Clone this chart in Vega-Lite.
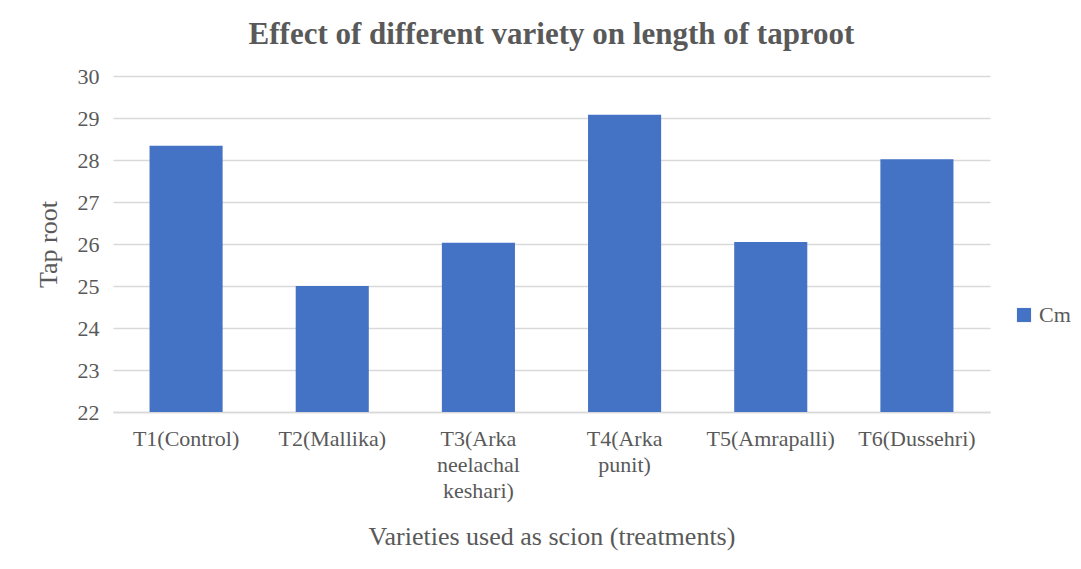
{
  "$schema": "https://vega.github.io/schema/vega-lite/v6.json",
  "width": 877,
  "height": 336,
  "autosize": {"type": "none"},
  "padding": {"left": 113, "top": 76, "right": 91, "bottom": 157},
  "background": "white",
  "title": {
    "text": "Effect of different variety on length of taproot",
    "font": "'Liberation Serif', 'DejaVu Serif', serif",
    "fontSize": 31,
    "fontWeight": "bold",
    "color": "#595959",
    "anchor": "middle",
    "offset": 14
  },
  "data": {
    "values": [
      {"treatment": "T1(Control)", "taproot": 28.34, "series": "Cm"},
      {"treatment": "T2(Mallika)", "taproot": 25.0, "series": "Cm"},
      {"treatment": "T3(Arka neelachal keshari)", "taproot": 26.03, "series": "Cm"},
      {"treatment": "T4(Arka punit)", "taproot": 29.08, "series": "Cm"},
      {"treatment": "T5(Amrapalli)", "taproot": 26.05, "series": "Cm"},
      {"treatment": "T6(Dussehri)", "taproot": 28.02, "series": "Cm"}
    ]
  },
  "mark": {"type": "bar", "clip": true},
  "encoding": {
    "x": {
      "field": "treatment",
      "type": "nominal",
      "sort": null,
      "scale": {"paddingInner": 0.5, "paddingOuter": 0.25},
      "axis": {
        "title": "Varieties used as scion (treatments)",
        "titleFont": "'Liberation Serif', serif",
        "titleFontSize": 26,
        "titleFontWeight": "normal",
        "titleColor": "#595959",
        "titlePadding": 22,
        "labelAngle": 0,
        "labelExpr": "split(datum.value, ' ')",
        "labelFont": "'Liberation Serif', serif",
        "labelFontSize": 22,
        "labelColor": "#595959",
        "labelPadding": 16,
        "labelLineHeight": 26,
        "ticks": false,
        "domainColor": "#d9d9d9",
        "domainWidth": 1.5,
        "grid": false
      }
    },
    "y": {
      "field": "taproot",
      "type": "quantitative",
      "scale": {"domain": [22, 30], "zero": false, "nice": false},
      "axis": {
        "title": "Tap root",
        "titleFont": "'Liberation Serif', serif",
        "titleFontSize": 26,
        "titleFontWeight": "normal",
        "titleColor": "#595959",
        "titlePadding": 16,
        "values": [22, 23, 24, 25, 26, 27, 28, 29, 30],
        "labelFont": "'Liberation Serif', serif",
        "labelFontSize": 22,
        "labelColor": "#595959",
        "labelPadding": 14,
        "ticks": false,
        "domain": false,
        "gridColor": "#d9d9d9",
        "gridWidth": 1.5
      }
    },
    "color": {
      "field": "series",
      "type": "nominal",
      "scale": {"range": ["#4472C4"]},
      "legend": {
        "title": null,
        "orient": "none",
        "legendX": 900,
        "legendY": 228,
        "symbolType": "square",
        "symbolSize": 200,
        "symbolStrokeWidth": 0,
        "labelFont": "'Liberation Serif', serif",
        "labelFontSize": 22,
        "labelColor": "#595959"
      }
    }
  },
  "config": {"font": "'Liberation Serif', serif", "view": {"stroke": null}}
}
